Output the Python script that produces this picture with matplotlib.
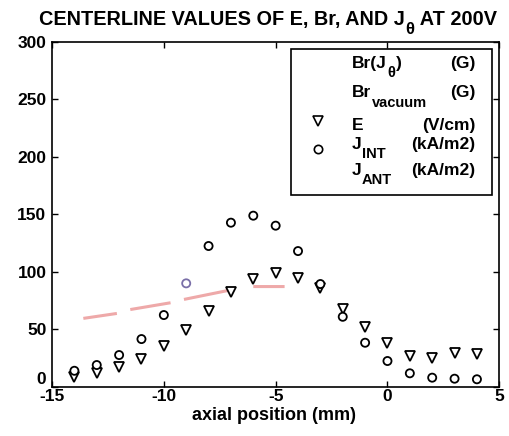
import numpy as np
import matplotlib
matplotlib.use("Agg")
import matplotlib.pyplot as plt
from matplotlib.patches import Rectangle
from matplotlib.transforms import ScaledTranslation

plt.rcParams['font.family'] = ['Liberation Sans', 'DejaVu Sans']
plt.rcParams['axes.unicode_minus'] = False

# axial positions (mm)
pos = [-14, -13, -12, -11, -10, -9, -8, -7, -6, -5, -4, -3, -2, -1, 0, 1, 2, 3, 4]
# E (V/cm) - down triangles
e_field = [8.5, 11.5, 16.7, 23.6, 35.5, 49.2, 65.7, 82.3, 93.5, 99.0,
           94.2, 85.5, 67.4, 52.0, 37.6, 26.8, 25.2, 29.4, 28.0]
# J_INT (kA/m2) - circles
j_int = [13.7, 18.7, 27.4, 41.3, 62.2, 89.8, 122.3, 142.6, 148.7, 140.0,
         117.9, 89.2, 60.7, 38.1, 22.2, 11.5, 7.7, 6.8, 6.3]
# faded Br trace (scan remnants), nan = gap
br_x = [-13.6, -12.1, np.nan, -11.5, -9.7, np.nan, -9.1, -6.9, np.nan, -6.0, -4.6]
br_y = [59.3, 63.6, np.nan, 67.0, 72.9, np.nan, 75.8, 84.5, np.nan, 87.0, 87.0]

xticks = [-15, -10, -5, 0, 5]
yticks = [0, 50, 100, 150, 200, 250, 300]

FS = 12.5


def subbed(ax, x, y, parts, transform, fs=FS, drop=7, **kw):
    """Write text with low, large subscripts: parts = [(text, is_sub), ...]."""
    sub = fs * 0.84
    prev = ax.text(x, y, parts[0][0], transform=transform, ha="left",
                   va="baseline", fontsize=fs, fontweight="bold",
                   clip_on=False, **kw)
    for txt, is_sub in parts[1:]:
        prev = ax.annotate(txt, xy=(1, y), xycoords=(prev, transform),
                           xytext=(0.5, -drop if is_sub else 0),
                           textcoords="offset points", ha="left", va="baseline",
                           fontsize=sub if is_sub else fs, fontweight="bold",
                           annotation_clip=False, **kw)
    return prev


fig = plt.figure(figsize=(5.1, 4.36), dpi=100, facecolor="white")
ax = fig.add_axes([0.102, 0.1135, 0.877, 0.7905])

ax.plot(br_x, br_y, color="#e98c8c", lw=2.2, alpha=0.75, solid_capstyle="butt")

ax.plot(pos, e_field, linestyle="none", marker="v", markersize=7,
        markerfacecolor="white", markeredgecolor="black", markeredgewidth=1.3)
edge = ["#7a6fa8" if p == -9 else "black" for p in pos]
ax.scatter(pos, j_int, s=34, facecolors="white", edgecolors=edge,
           linewidths=1.3, zorder=3)

ax.set_xlim(-15, 5)
ax.set_ylim(0, 300)
ax.set_xticks(xticks)
ax.set_yticks(yticks)
ax.tick_params(direction="in", length=4, width=1, top=True, right=True,
               labelsize=FS)
ax.tick_params(axis="x", pad=2)
ax.tick_params(axis="y", pad=4)
for lab in ax.get_xticklabels() + ax.get_yticklabels():
    lab.set_fontweight("bold")
# the "0" sits a little above the axis so it clears "-15"
y0 = ax.get_yticklabels()[0]
y0.set_transform(y0.get_transform() + ScaledTranslation(0, 6 / 72, fig.dpi_scale_trans))
for sp in ax.spines.values():
    sp.set_linewidth(1.2)

# legend drawn by hand so units line up in a column
tr = ax.transAxes
ax.add_patch(Rectangle((0.534, 0.557), 0.45, 0.422, transform=tr,
                       facecolor="white", edgecolor="black", lw=1.2, zorder=4))
name_x, unit_x, mark_x = 0.67, 0.946, 0.595
rows = [
    (0.925, [("Br(J", False), ("θ", True), (")", False)], "(G)", None),
    (0.840, [("Br", False), ("vacuum", True)], "(G)", None),
    (0.745, [("E", False)], "(V/cm)", "v"),
    (0.690, [("J", False), ("INT", True)], "(kA/m2)", "o"),
    (0.615, [("J", False), ("ANT", True)], "(kA/m2)", None),
]
for y, parts, unit, mk in rows:
    subbed(ax, name_x, y, parts, tr, zorder=5)
    ax.text(unit_x, y, unit, transform=tr, ha="right", va="baseline",
            fontsize=FS, fontweight="bold", zorder=5)
    if mk == "v":
        ax.plot([mark_x], [y + 0.025], marker="v", markersize=6.5, transform=tr,
                markerfacecolor="white", markeredgecolor="black",
                markeredgewidth=1.2, zorder=5, clip_on=False)
    elif mk == "o":
        ax.plot([mark_x], [y + 0.0], marker="o", markersize=6, transform=tr,
                markerfacecolor="white", markeredgecolor="black",
                markeredgewidth=1.2, zorder=5, clip_on=False)

subbed(ax, 0.076, 0.942,
       [("CENTERLINE VALUES OF E, Br, AND J", False), ("θ", True), (" AT 200V", False)],
       fig.transFigure, fs=14.3, drop=6.5)
fig.text(0.537, 0.046, "axial position (mm)", ha="center", va="center",
         fontsize=13, fontweight="bold")

fig.savefig("out.png", dpi=100, facecolor="white")
